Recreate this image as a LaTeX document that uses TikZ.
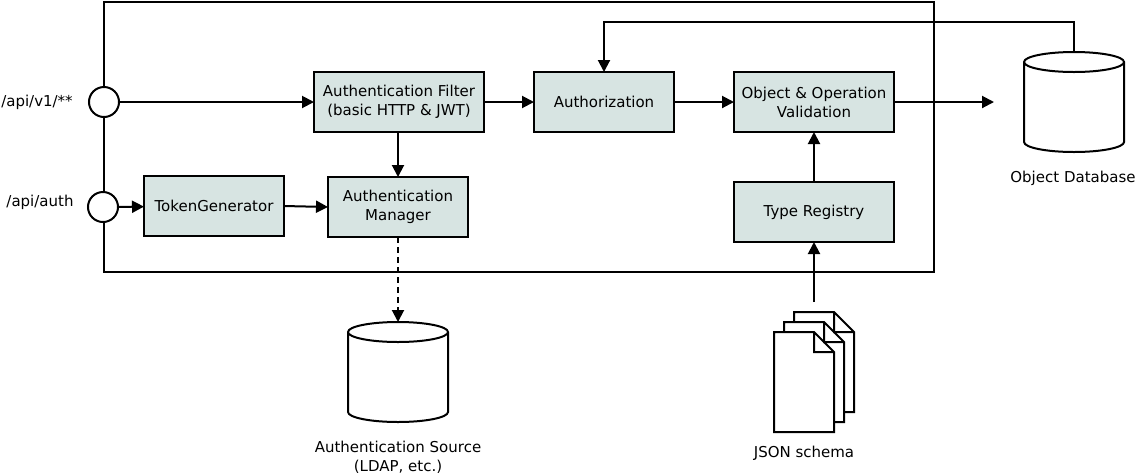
\documentclass[tikz,border=0pt]{standalone}
\usepackage{fontspec}
\setmainfont{DejaVu Sans}
\usetikzlibrary{arrows.meta}
\definecolor{boxfill}{RGB}{215,228,226}
\tikzset{
	block/.style={draw=black, line width=2pt, fill=boxfill, inner sep=0pt, outer sep=0pt, align=center, font=\fontsize{15}{19}\selectfont},
	port/.style={draw=black, line width=2pt, fill=white, circle, minimum size=30pt, inner sep=0pt, outer sep=0pt},
	label/.style={inner sep=0pt, align=center, font=\fontsize{15}{19}\selectfont},
	store/.style={minimum width=100pt, minimum height=100pt, inner sep=0pt, outer sep=0pt},
	link/.style={line width=2pt, -{Triangle[length=12pt,width=12pt]}},
	page/.style={draw=black, line width=2pt, fill=white, line join=miter}
}
\begin{document}
\begin{tikzpicture}[x=1pt, y=-1pt]
	\useasboundingbox (0, 0) rectangle (1138, 475);
	% Rahmen
	\draw[line width=2pt] (104, 2) rectangle (934, 272);
	% Eingaenge
	\node[port] (apiPort) at (104, 102) {};
	\node[port] (authPort) at (103, 207) {};
	\node[label] (apiLabel) at (37, 102) {/api/v1/**};
	\node[label] (authLabel) at (40, 202) {/api/auth};
	% Bloecke
	\node[block, minimum width=170pt, minimum height=60pt] (authFilter) at (399, 102) {Authentication Filter\\(basic HTTP \& JWT)};
	\node[block, minimum width=140pt, minimum height=60pt] (authorization) at (604, 102) {Authorization};
	\node[block, minimum width=160pt, minimum height=60pt] (validation) at (814, 102) {Object \& Operation\\Validation};
	\node[block, minimum width=160pt, minimum height=60pt] (typeRegistry) at (814, 212) {Type Registry};
	\node[block, minimum width=140pt, minimum height=60pt] (tokenGen) at (214, 206) {TokenGenerator};
	\node[block, minimum width=140pt, minimum height=60pt] (authManager) at (398, 207) {Authentication\\Manager};
	% Datenbanken
	\node[store] (objectDb) at (1074, 102) {};
	\node[store] (authSource) at (398, 372) {};
	\foreach \n in {objectDb,authSource} {
		\draw[line width=2pt, fill=white] (\n.north west) ++(0, 10) arc[start angle=180, end angle=540, x radius=50pt, y radius=10pt]
			-- ([yshift=10pt]\n.south west) arc[start angle=180, end angle=360, x radius=50pt, y radius=10pt]
			-- ([yshift=-10pt]\n.north east);
	}
	\node[label] (objectDbLabel) at (1073, 178) {Object Database};
	\node[label] (authSourceLabel) at (398, 457) {Authentication Source\\(LDAP, etc.)};
	% Schema-Dateien
	\foreach \x in {20,10,0}
		\draw[page] (774 + \x, 332 - \x) -- ++(40, 0) -- ++(20, 20) -- ++(0, 80) -- ++(-60, 0) -- cycle
			(814 + \x, 332 - \x) -- ++(0, 20) -- ++(20, 0);
	\node[label] (schemaLabel) at (804, 453) {JSON schema};
	\coordinate (schemaTop) at (814, 302);
	\coordinate (dbInput) at (994, 102);
	% Verbindungen
	\draw[link] (apiPort) -- (authFilter);
	\draw[link] (authPort) -- (tokenGen);
	\draw[link] (tokenGen.east) -- (authManager.west);
	\draw[link] (authFilter.south -| authManager) -- (authManager);
	\draw[link] (authFilter) -- (authorization);
	\draw[link] (authorization) -- (validation);
	\draw[link] (validation) -- (dbInput);
	\draw[link] (typeRegistry) -- (validation);
	\draw[link] (schemaTop) -- (typeRegistry);
	\draw[link, dash pattern=on 6pt off 4pt] (authManager) -- (authSource.north);
	\draw[link] (objectDb.north) -- ++(0, -30) -| (authorization.north);
\end{tikzpicture}
\end{document}
